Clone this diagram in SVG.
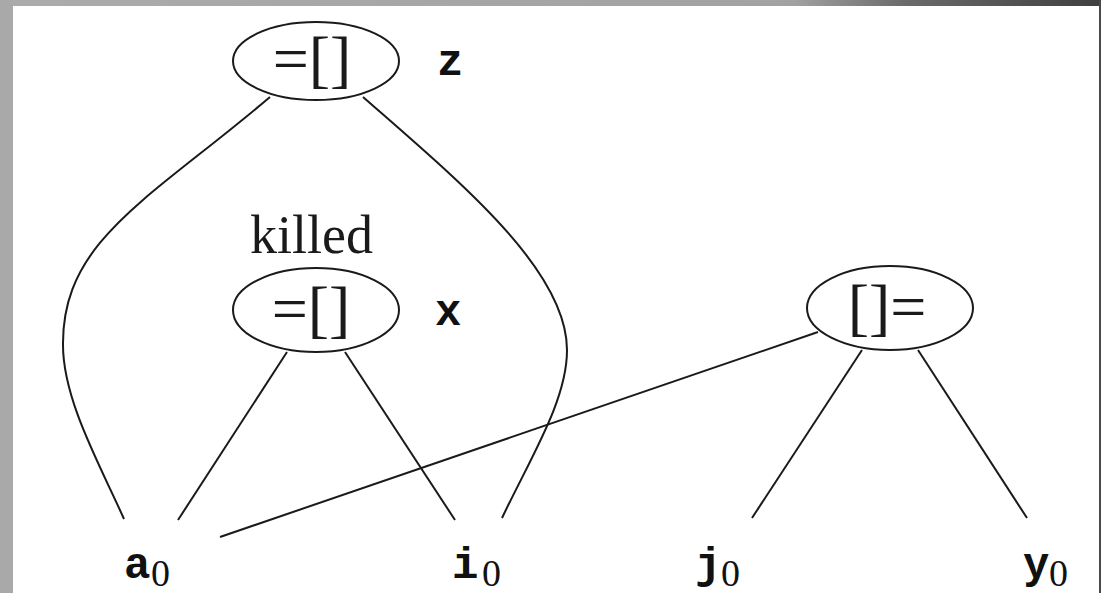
<svg xmlns="http://www.w3.org/2000/svg" width="1101" height="593" viewBox="0 0 1101 593">
  <defs>
    <linearGradient id="topbar" x1="0" y1="0" x2="1101" y2="0" gradientUnits="userSpaceOnUse">
      <stop offset="0" stop-color="#ababab"/>
      <stop offset="0.72" stop-color="#a2a2a2"/>
      <stop offset="0.82" stop-color="#6b6b6b"/>
      <stop offset="1" stop-color="#3f3f3f"/>
    </linearGradient>
  </defs>
  <style>
    .node { fill: none; stroke: #1a1a1a; stroke-width: 2; }
    .edge { fill: none; stroke: #1a1a1a; stroke-width: 2; }
    .op { font-family: "Liberation Serif", "Times New Roman", serif; font-size: 64px; fill: #1a1a1a; text-anchor: middle; }
    .word { font-family: "Liberation Serif", "Times New Roman", serif; font-size: 54px; fill: #1a1a1a; }
    .tt { font-family: "Liberation Mono", "Courier New", monospace; font-size: 44px; font-weight: bold; fill: #111; }
    .sub { font-family: "Liberation Serif", "Times New Roman", serif; font-size: 38px; fill: #111; }
  </style>
  <rect x="0" y="0" width="1101" height="593" fill="#ffffff"/>
  <rect x="0" y="0" width="1101" height="6" fill="url(#topbar)"/>
  <rect x="0" y="0" width="13" height="593" fill="#a9a9a9"/>
  <rect x="1099" y="0" width="2" height="593" fill="#4a4a4a"/>

  <g id="connectors">
    <path class="edge" d="M270,97 C150,199 62,240 63,345 C63,400 100,465 124,519"/>
    <path class="edge" d="M363,97 C460,182 567,270 567,350 C567,400 532,455 502,518"/>
    <line class="edge" x1="287" y1="352" x2="178" y2="520"/>
    <line class="edge" x1="345" y1="352" x2="455" y2="520"/>
    <line class="edge" x1="818" y1="332" x2="220" y2="537"/>
    <line class="edge" x1="862" y1="350" x2="752" y2="518"/>
    <line class="edge" x1="918" y1="350" x2="1027" y2="518"/>
  </g>

  <g id="node-z">
    <ellipse class="node" cx="316" cy="61" rx="83" ry="39"/>
    <text class="op" x="312" y="80">=[]</text>
    <text class="tt" x="437" y="75">z</text>
  </g>

  <g id="node-x">
    <text class="word" x="250" y="253">killed</text>
    <ellipse class="node" cx="316" cy="310" rx="83" ry="42"/>
    <text class="op" x="311" y="330">=[]</text>
    <text class="tt" x="435" y="325">x</text>
  </g>

  <g id="node-store">
    <ellipse class="node" cx="890" cy="308" rx="83" ry="42"/>
    <text class="op" x="887" y="328">[]=</text>
  </g>

  <g id="node-a0">
    <text class="tt" x="124" y="578">a</text>
    <text class="sub" x="151" y="586">0</text>
  </g>
  <g id="node-i0">
    <text class="tt" x="452" y="578">i</text>
    <text class="sub" x="482" y="586">0</text>
  </g>
  <g id="node-j0">
    <text class="tt" x="695" y="578">j</text>
    <text class="sub" x="721" y="586">0</text>
  </g>
  <g id="node-y0">
    <text class="tt" x="1023" y="578">y</text>
    <text class="sub" x="1049" y="586">0</text>
  </g>
</svg>
